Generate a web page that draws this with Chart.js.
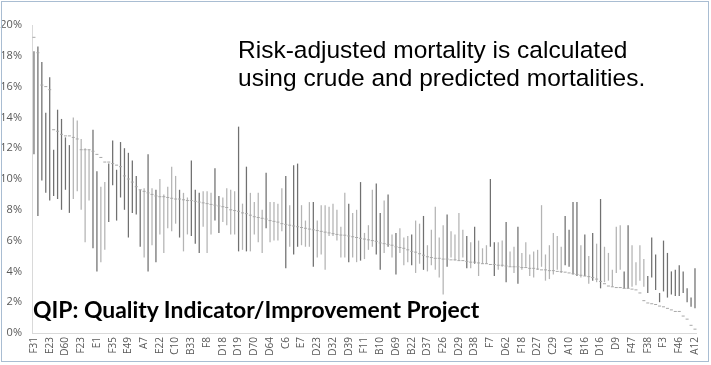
<!DOCTYPE html>
<html>
<head>
<meta charset="utf-8">
<script src="https://cdn.jsdelivr.net/npm/chart.js@4.4.1/dist/chart.umd.min.js"></script>
<style>
  body { margin: 0; background: #fff; }
  #wrap { position: relative; width: 711px; height: 365px; }
  #frame { position: absolute; left: 1px; top: 1px; width: 706px; height: 359px; border: 1px solid #a9bdd2; pointer-events: none; }
  #note { position: absolute; left: 238px; top: 36px; font: 24.5px "Liberation Sans", Arial, sans-serif; line-height: 28px; color: #000; white-space: nowrap; }
  #qip { position: absolute; left: 33px; top: 295px; font-weight: bold; font-family: Lato, "Open Sans", sans-serif; color: #000; white-space: nowrap; }
</style>
</head>
<body>
<div id="wrap">
  <canvas id="chart" width="711" height="365"></canvas>
  <div id="note">Risk-adjusted mortality is calculated<br>using crude and predicted mortalities.</div>
  <div id="qip">QIP: Quality Indicator/Improvement Project</div>
  <div id="frame"></div>
</div>
<script>
// hospital names shown on the axis (every 4th hospital)
const tick_names = ['F31','E23','D60','F23','E1','F35','E49','A7','E22','C10','B33','F8','D18','D19','D70','D64','C6','E7','D23','D32','D39','F11','B10','D69','B22','D37','F26','D29','D38','F7','D62','F18','D27','C29','A10','B16','D16','D9','F47','F38','F3','F46','A12'];

// crude mortality (%)
const crude = [
  11.6, 7.6, 9.9, 9.1, 8.6, 8.9, 8.7, 8.0, 9.3, 7.8,
  14.0, 13.8, 12.6, 12.0, 11.9, 5.5, 4.0, 9.5, 9.8, 7.2,
  9.6, 7.3, 8.8, 8.0, 6.2, 7.8, 7.7, 5.6, 9.4, 4.0,
  9.4, 4.6, 10.0, 9.0, 9.5, 10.8, 10.2, 6.2, 9.1, 8.8,
  6.3, 5.8, 5.2, 9.2, 9.2, 9.1, 7.3, 6.5, 8.8, 9.4,
  9.3, 9.2, 5.3, 8.4, 5.3, 9.1, 8.5, 9.1, 8.0, 6.8,
  8.5, 8.5, 8.4, 9.4, 4.2, 8.3, 5.1, 5.6, 8.3, 7.3,
  8.5, 4.3, 7.3, 8.3, 8.3, 8.2, 8.4, 8.0, 6.9, 9.1,
  4.6, 7.8, 8.0, 4.7, 6.5, 7.0, 9.3, 5.1, 4.1, 8.6,
  5.6, 6.4, 3.8, 6.8, 6.2, 6.3, 4.4, 7.3, 7.1, 4.1,
  5.7, 6.7, 8.2, 6.2, 7.0, 4.3, 6.6, 6.4, 7.8, 6.7,
  4.2, 5.9, 4.5, 6.0, 5.5, 5.7, 5.6, 3.7, 5.9, 6.0,
  3.3, 5.3, 5.6, 3.2, 5.2, 5.9, 5.1, 5.3, 5.4, 8.3,
  5.1, 5.7, 6.5, 6.3, 5.6, 4.4, 4.3, 3.8, 3.7, 5.7,
  3.7, 5.0, 3.4, 5.8, 2.9, 5.6, 5.2, 4.1, 6.9, 7.0,
  2.9, 2.9, 5.7, 4.6, 5.7, 4.8, 2.6, 3.6, 2.8, 2.0,
  2.7, 2.3, 2.5, 2.4, 2.4, 2.6, 2.0, 1.7, 1.6
];

// predicted mortality (%)
const predicted = [
  18.3, 18.6, 17.6, 14.3, 16.6, 11.9, 14.5, 13.9, 12.7, 12.2,
  8.7, 9.2, 8.0, 5.9, 8.6, 13.2, 10.5, 4.6, 5.4, 11.0,
  12.5, 10.6, 12.4, 12.0, 11.7, 11.2, 10.2, 9.3, 4.9, 11.6,
  5.7, 9.3, 6.4, 5.2, 6.8, 6.6, 7.1, 9.3, 5.3, 6.4,
  11.2, 9.3, 9.1, 6.9, 5.2, 6.4, 10.7, 8.9, 7.2, 7.0,
  6.4, 6.4, 13.4, 5.4, 10.8, 5.3, 6.4, 5.9, 5.2, 10.4,
  5.9, 6.0, 6.0, 6.6, 10.2, 5.6, 10.9, 11.0, 5.7, 5.6,
  5.6, 8.5, 4.9, 5.1, 4.1, 6.3, 6.3, 6.0, 4.9, 4.9,
  8.4, 4.9, 4.6, 9.8, 4.8, 5.4, 5.6, 9.7, 7.8, 5.2,
  9.0, 4.9, 6.5, 5.2, 4.4, 4.6, 6.4, 3.9, 4.5, 7.6,
  4.0, 4.4, 4.1, 3.6, 2.5, 7.7, 4.9, 4.7, 4.7, 4.9,
  6.3, 4.2, 6.9, 3.7, 4.5, 4.5, 10.0, 5.9, 4.1, 4.3,
  7.2, 4.3, 3.9, 6.9, 4.1, 4.3, 3.7, 3.6, 4.1, 4.3,
  3.4, 3.5, 3.8, 4.1, 3.9, 7.6, 6.7, 8.5, 8.5, 3.6,
  6.4, 3.2, 6.5, 3.3, 8.7, 3.3, 3.4, 3.0, 3.9, 4.1,
  4.0, 7.0, 3.0, 3.1, 3.4, 3.0, 3.7, 6.2, 5.1, 2.6,
  6.0, 5.2, 4.0, 4.1, 4.4, 4.0, 2.9, 2.3, 4.2
];

// risk-adjusted mortality (%)
const risk_adjusted = [
  19.2, 18.2, 16.1, 16.0, 15.8, 13.2, 13.1, 12.9, 12.8, 12.8,
  12.7, 12.6, 11.9, 11.9, 11.9, 11.8, 11.6, 11.4, 11.1, 11.1,
  11.0, 10.9, 10.8, 10.2, 10.0, 9.8, 9.5, 9.3, 9.2, 9.1,
  9.0, 8.9, 8.85, 8.85, 8.8, 8.75, 8.7, 8.7, 8.65, 8.6,
  8.6, 8.55, 8.5, 8.45, 8.4, 8.35, 8.3, 8.25, 8.2, 8.15,
  8.0, 7.95, 7.9, 7.8, 7.75, 7.65, 7.55, 7.5, 7.45, 7.4,
  7.3, 7.25, 7.2, 7.1, 7.05, 7.0, 6.95, 6.9, 6.85, 6.8,
  6.75, 6.7, 6.65, 6.6, 6.55, 6.5, 6.45, 6.4, 6.36, 6.35,
  6.3, 6.25, 6.2, 6.15, 6.1, 6.05, 6.0, 5.95, 5.85, 5.8,
  5.75, 5.7, 5.6, 5.55, 5.5, 5.4, 5.3, 5.25, 5.15, 5.05,
  4.95, 4.9, 4.85, 4.85, 4.8, 4.8, 4.75, 4.75, 4.7, 4.7,
  4.65, 4.6, 4.6, 4.55, 4.5, 4.5, 4.45, 4.45, 4.4, 4.4,
  4.35, 4.3, 4.3, 4.3, 4.25, 4.25, 4.2, 4.2, 4.15, 4.1,
  4.1, 4.05, 4.05, 4.0, 3.98, 3.95, 3.9, 3.85, 3.8, 3.75,
  3.7, 3.66, 3.6, 3.5, 3.35, 3.2, 3.05, 3.0, 2.95, 2.95,
  2.9, 2.9, 2.85, 2.8, 2.6, 2.1, 1.95, 1.9, 1.85, 1.75,
  1.7, 1.6, 1.5, 1.4, 1.4, 1.1, 0.9, 0.5, 0.25
];

const labels = crude.map((c, i) => i % 4 === 0 ? tick_names[i / 4] : '');
const ranges = crude.map((c, i) => [Math.min(c, predicted[i]), Math.max(c, predicted[i])]);
const bar_colors = crude.map((c, i) => c < predicted[i] ? '#707070' : '#b4b4b4');

// fit the bold caption to its width in the original
const qip = document.getElementById('qip');
const mctx = document.createElement('canvas').getContext('2d');
mctx.font = 'bold 100px Lato';
qip.style.fontSize = (100 * 448 / mctx.measureText(qip.textContent).width).toFixed(1) + 'px';

new Chart(document.getElementById('chart'), {
    type: 'bar',
    data: {
        labels: labels,
        datasets: [{
            data: ranges,
            backgroundColor: bar_colors,
            categoryPercentage: 1,
            barPercentage: 0.32,
            order: 2
        }, {
            type: 'line',
            data: risk_adjusted,
            showLine: false,
            pointStyle: 'line',
            pointRadius: 1.5,
            borderWidth: 1,
            borderColor: '#a8a8a8',
            order: 1
        }]
    },
    options: {
        responsive: false,
        animation: false,
        layout: { padding: { left: 0, right: 5, top: 25, bottom: 0 } },
        plugins: { legend: { display: false }, tooltip: { enabled: false } },
        scales: {
            x: {
                grid: { display: false, drawTicks: false },
                border: { color: '#d9d9d9' },
                ticks: {
                    autoSkip: false, minRotation: 90, maxRotation: 90, padding: 4,
                    color: '#595959', font: { family: 'Open Sans', size: 10 }
                },
                afterFit: s => { s.height = 32; }
            },
            y: {
                min: 0, max: 20,
                grid: { display: false, drawTicks: false },
                border: { color: '#d9d9d9' },
                ticks: {
                    stepSize: 2, padding: 10,
                    color: '#595959', font: { family: 'Open Sans', size: 11 },
                    callback: v => v + '%'
                },
                afterFit: s => { s.width = 32; }
            }
        }
    }
});
</script>
</body>
</html>
